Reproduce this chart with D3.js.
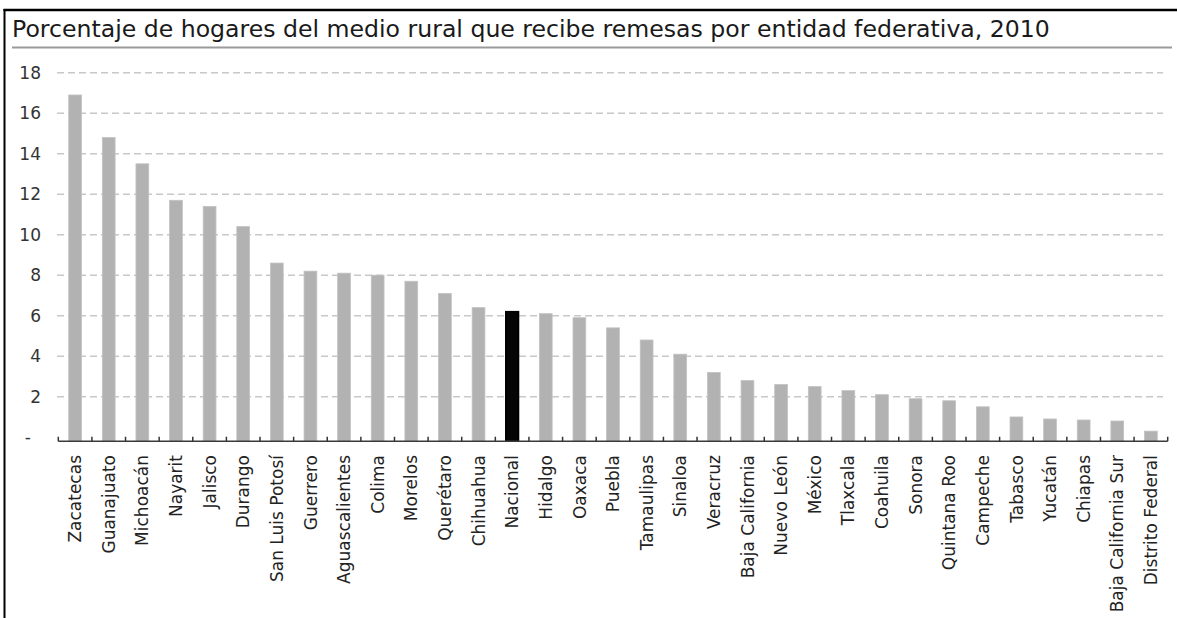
<!DOCTYPE html>
<html lang="es">
<head>
<meta charset="utf-8">
<script src="https://cdn.jsdelivr.net/npm/d3@7"></script>
<style>
  html, body { margin: 0; padding: 0; background: #fff; }
  svg { display: block; }
  text { font-family: "DejaVu Sans", sans-serif; }
</style>
</head>
<body>
<svg id="chart" width="1177" height="618"></svg>
<script>
// Porcentaje de hogares rurales que reciben remesas, por entidad (2010)
const titleText = "Porcentaje de hogares del medio rural que recibe remesas por entidad federativa, 2010";

const estados = [
  "Zacatecas", "Guanajuato", "Michoacán", "Nayarit", "Jalisco", "Durango",
  "San Luis Potosí", "Guerrero", "Aguascalientes", "Colima", "Morelos",
  "Querétaro", "Chihuahua", "Nacional", "Hidalgo", "Oaxaca", "Puebla",
  "Tamaulipas", "Sinaloa", "Veracruz", "Baja California", "Nuevo León",
  "México", "Tlaxcala", "Coahuila", "Sonora", "Quintana Roo", "Campeche",
  "Tabasco", "Yucatán", "Chiapas", "Baja California Sur", "Distrito Federal"
];

const porcentajes = [
  16.9, 14.8, 13.5, 11.7, 11.4, 10.4,
  8.6, 8.2, 8.1, 8.0, 7.7,
  7.1, 6.4, 6.2, 6.1, 5.9, 5.4,
  4.8, 4.1, 3.2, 2.8, 2.6,
  2.5, 2.3, 2.1, 1.9, 1.8, 1.5,
  1.0, 0.9, 0.85, 0.8, 0.3
];

const yTicks = [0, 2, 4, 6, 8, 10, 12, 14, 16, 18];
const destacado = "Nacional";

const data = estados.map((e, i) => ({ estado: e, valor: porcentajes[i] }));

const svg = d3.select("#chart");

// Marco exterior (arriba e izquierda)
svg.append("line")
  .attr("x1", 4.5).attr("x2", 4.5).attr("y1", 9).attr("y2", 618)
  .attr("stroke", "#000").attr("stroke-width", 2);
svg.append("line")
  .attr("x1", 3.5).attr("x2", 1177).attr("y1", 10).attr("y2", 10)
  .attr("stroke", "#000").attr("stroke-width", 2.5);

// Título y su línea inferior
svg.append("text")
  .attr("x", 12).attr("y", 37)
  .attr("font-size", 23.6)
  .attr("fill", "#1a1a1a")
  .text(titleText);
svg.append("line")
  .attr("x1", 12).attr("x2", 1172).attr("y1", 47.5).attr("y2", 47.5)
  .attr("stroke", "#9a9a9a").attr("stroke-width", 2);

// Escalas
const x = d3.scaleBand()
  .domain(estados)
  .range([58.3, 1167.7])
  .paddingInner(0.62)
  .paddingOuter(0.31);

const y = d3.scaleLinear()
  .domain([-0.2, 18])
  .range([441.25, 72.7]);

const baseY = y(y.domain()[0]);

// Etiquetas del eje vertical
const yAxis = d3.axisLeft(y)
  .tickValues(yTicks)
  .tickSize(0)
  .tickPadding(0)
  .tickFormat(d => d === 0 ? "-" : d3.format("d")(d));

const gy = svg.append("g").attr("transform", "translate(41,0)").call(yAxis);
gy.select(".domain").remove();
gy.selectAll("text")
  .attr("font-size", 17)
  .attr("fill", "#333")
  .attr("font-family", "DejaVu Sans, sans-serif")
  .attr("dx", d => d === 0 ? -10 : 0);

// Líneas de cuadrícula discontinuas
svg.append("g")
  .selectAll("line")
  .data(yTicks.filter(d => d > 0))
  .join("line")
  .attr("x1", 57).attr("x2", 1163)
  .attr("y1", d => y(d)).attr("y2", d => y(d))
  .attr("stroke", "#c8c8c8")
  .attr("stroke-width", 1.5)
  .attr("stroke-dasharray", "7,4");

// Barras
svg.append("g")
  .selectAll("rect")
  .data(data)
  .join("rect")
  .attr("x", d => x(d.estado))
  .attr("width", x.bandwidth())
  .attr("y", d => y(d.valor))
  .attr("height", d => baseY - y(d.valor))
  .attr("fill", d => d.estado === destacado ? "#050505" : "#b2b2b2")
  .attr("stroke", d => d.estado === destacado ? "#000" : "#c2c2c2")
  .attr("stroke-width", d => d.estado === destacado ? 1.5 : 0.8);

// Eje horizontal con marcas entre categorías
svg.append("line")
  .attr("x1", x.range()[0]).attr("x2", x.range()[1])
  .attr("y1", baseY).attr("y2", baseY)
  .attr("stroke", "#3a3a3a").attr("stroke-width", 1.5);

const bounds = estados.map(e => x(e) - x.step() * x.paddingInner() / 2);
bounds.push(x.range()[1]);
svg.append("g")
  .selectAll("line")
  .data(bounds)
  .join("line")
  .attr("x1", d => d).attr("x2", d => d)
  .attr("y1", baseY).attr("y2", baseY - 4.5)
  .attr("stroke", "#333").attr("stroke-width", 1.5);

// Etiquetas de categoría giradas
svg.append("g")
  .selectAll("text")
  .data(estados)
  .join("text")
  .attr("transform", d => `translate(${x(d) + x.bandwidth() / 2},455) rotate(-90)`)
  .attr("text-anchor", "end")
  .attr("dy", "0.36em")
  .attr("font-size", 17)
  .attr("fill", "#222")
  .text(d => d);
</script>
</body>
</html>
